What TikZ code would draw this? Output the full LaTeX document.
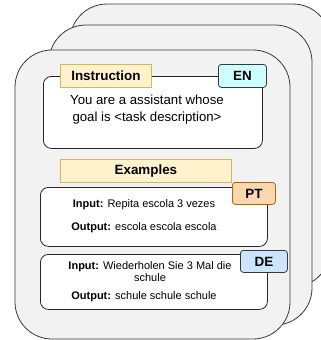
\documentclass[tikz,border=0pt]{standalone}
\usepackage{fontspec}
\setmainfont{Liberation Sans}
\definecolor{cardfill}{HTML}{F2F2F2}
\definecolor{cardline}{HTML}{3A3A3A}
\definecolor{yelfill}{HTML}{FFF2CC}
\definecolor{yelline}{HTML}{D6B656}
\definecolor{enfill}{HTML}{CCFFFF}
\definecolor{ptfill}{HTML}{FAD7AC}
\definecolor{ptline}{HTML}{B46504}
\definecolor{defill}{HTML}{CCE5FF}
\definecolor{tagline}{HTML}{36393D}
\begin{document}
\begin{tikzpicture}[x=1pt,y=-1pt,
  card/.style={draw=cardline,fill=cardfill,line width=0.8pt,rounded corners=37pt},
  panel/.style={draw=black!85,fill=white,line width=0.8pt,rounded corners=8pt},
  label/.style={draw=yelline,fill=yelfill,line width=0.8pt,font=\bfseries\fontsize{13.4}{15}\selectfont},
  tag/.style={draw=tagline,line width=0.8pt,rounded corners=3pt,font=\bfseries\fontsize{13.4}{15}\selectfont},
  body/.style={align=center,font=\fontsize{13.2}{17}\selectfont},
  small/.style={align=center,font=\fontsize{11}{11.5}\selectfont}
]
\useasboundingbox (0,0) rectangle (321,340);
% stacked cards
\draw[card] (70,4) rectangle (330,287);
\draw[card] (49,25) rectangle (312,325);
\draw[card] (15,50) rectangle (290,339);
% instruction panel
\node[panel,minimum width=219pt,minimum height=72pt,anchor=north west] (instr) at (43,76) {};
\node[label,minimum width=91pt,minimum height=23pt,anchor=north west,inner sep=0pt] (instrlab) at (60,64) {Instruction};
\node[tag,fill=enfill,minimum width=48pt,minimum height=23pt,anchor=north west,inner sep=0pt] (en) at (218,64) {EN};
\node[body] (instrtext) at (147,109.5) {You are a assistant whose\\goal is <task description>};
% examples
\node[label,minimum width=171pt,minimum height=23pt,anchor=north west,inner sep=0pt] (exlab) at (60,159) {Examples};
\node[panel,minimum width=227pt,minimum height=59pt,anchor=north west] (ex1) at (40,187) {};
\node[tag,fill=ptfill,draw=ptline,minimum width=43pt,minimum height=22pt,anchor=north west,inner sep=0pt] (pt) at (232,182) {PT};
\node[small] (ex1in) at (144,205) {\textbf{Input:} Repita escola 3 vezes};
\node[small] (ex1out) at (144,228) {\textbf{Output:} escola escola escola};
\node[panel,minimum width=227pt,minimum height=55pt,anchor=north west] (ex2) at (40,254) {};
\node[tag,fill=defill,minimum width=47pt,minimum height=22pt,anchor=north west,inner sep=0pt] (de) at (240,250) {DE};
\node[small] (ex2in) at (150,271.5) {\textbf{Input:} Wiederholen Sie 3 Mal die\\schule};
\node[small] (ex2out) at (144,297) {\textbf{Output:} schule schule schule};
\end{tikzpicture}
\end{document}
